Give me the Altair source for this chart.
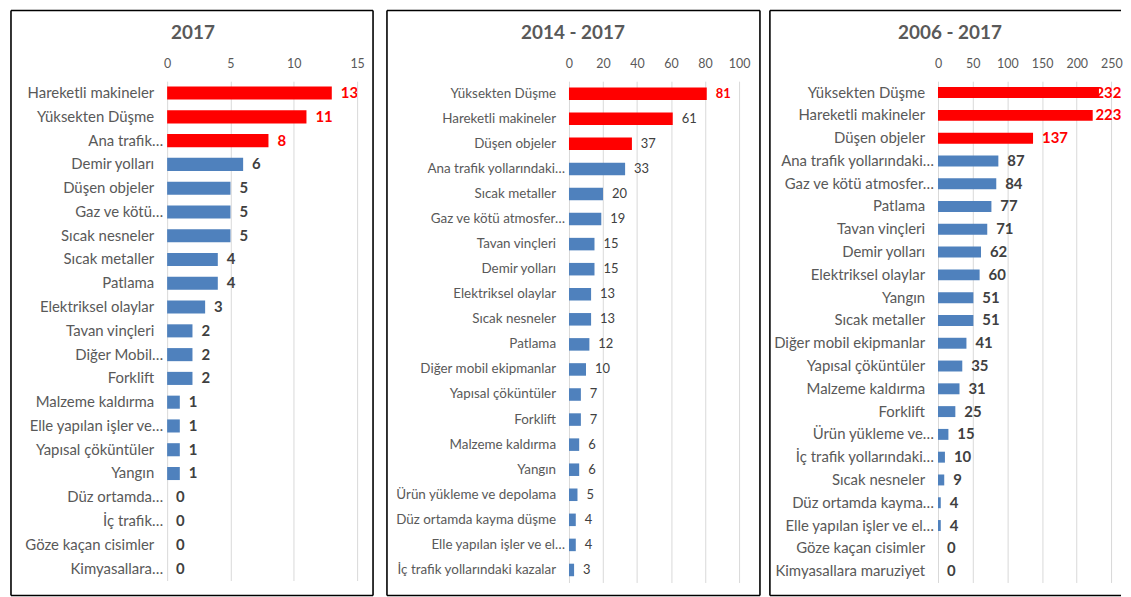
import altair as alt
import pandas as pd

# ---------------- data ----------------
cats_2017 = ["Hareketli makineler", "Yüksekten Düşme", "Ana trafik…", "Demir yolları",
             "Düşen objeler", "Gaz ve kötü…", "Sıcak nesneler", "Sıcak metaller", "Patlama",
             "Elektriksel olaylar", "Tavan vinçleri", "Diğer Mobil…", "Forklift",
             "Malzeme kaldırma", "Elle yapılan işler ve…", "Yapısal çöküntüler", "Yangın",
             "Düz ortamda…", "İç trafik…", "Göze kaçan cisimler", "Kimyasallara…"]
vals_2017 = [13, 11, 8, 6, 5, 5, 5, 4, 4, 3, 2, 2, 2, 1, 1, 1, 1, 0, 0, 0, 0]

cats_1417 = ["Yüksekten Düşme", "Hareketli makineler", "Düşen objeler",
             "Ana trafik yollarındaki…", "Sıcak metaller", "Gaz ve kötü atmosfer…",
             "Tavan vinçleri", "Demir yolları", "Elektriksel olaylar", "Sıcak nesneler",
             "Patlama", "Diğer mobil ekipmanlar", "Yapısal çöküntüler", "Forklift",
             "Malzeme kaldırma", "Yangın", "Ürün yükleme ve depolama",
             "Düz ortamda kayma düşme", "Elle yapılan işler ve el…",
             "İç trafik yollarındaki kazalar"]
vals_1417 = [81, 61, 37, 33, 20, 19, 15, 15, 13, 13, 12, 10, 7, 7, 6, 6, 5, 4, 4, 3]

cats_0617 = ["Yüksekten Düşme", "Hareketli makineler", "Düşen objeler",
             "Ana trafik yollarındaki…", "Gaz ve kötü atmosfer…", "Patlama",
             "Tavan vinçleri", "Demir yolları", "Elektriksel olaylar", "Yangın",
             "Sıcak metaller", "Diğer mobil ekipmanlar", "Yapısal çöküntüler",
             "Malzeme kaldırma", "Forklift", "Ürün yükleme ve…", "İç trafik yollarındaki…",
             "Sıcak nesneler", "Düz ortamda kayma…", "Elle yapılan işler ve el…",
             "Göze kaçan cisimler", "Kimyasallara maruziyet"]
vals_0617 = [232, 223, 137, 87, 84, 77, 71, 62, 60, 51, 51, 41, 35, 31, 25, 15, 10, 9, 4, 4, 0, 0]

ticks_2017 = [0, 5, 10, 15]
ticks_1417 = [0, 20, 40, 60, 80, 100]
ticks_0617 = [0, 50, 100, 150, 200, 250]

titles = ["2017", "2014 - 2017", "2006 - 2017"]

# ---------------- style ----------------
FONT = "Lato"
RED = "#ff0000"
BLUE = "#4f81bd"
GRAY = "#595959"
DARK = "#404040"
GRID = "#d9d9d9"
TRUNC = "indexof(datum.cat, '…') >= 0"


def panel(title, cats, vals, ticks, n_red_bars, n_red_labels, width, height, xmax,
          label_size, value_size, value_weight, pad_inner, title_x, border, label_cap,
          right_border=True):
    df = pd.DataFrame({"cat": cats, "val": vals})
    df["idx"] = list(range(len(cats)))

    xsc = alt.Scale(domain=[0, xmax], nice=False, zero=True)
    ysc = alt.Scale(paddingInner=pad_inner, paddingOuter=pad_inner / 2)
    xaxis = alt.Axis(orient="top", values=ticks, title=None, grid=True,
                     gridColor=GRID, gridWidth=1, domain=False, ticks=False,
                     labelPadding=11, labelFont=FONT, labelFontSize=12.5,
                     labelColor=GRAY, labelFlush=False, labelOverlap=False)
    x = alt.X("val:Q", scale=xsc, axis=xaxis)
    xl = alt.X("lx:Q", scale=xsc, axis=xaxis)
    y = alt.Y("cat:N", sort=cats, scale=ysc, axis=None)

    base = alt.Chart(df)
    bars = base.mark_bar().encode(
        x=x, y=y,
        color=alt.condition(f"datum.idx < {n_red_bars}", alt.value(RED), alt.value(BLUE)))

    # category labels (Excel's truncated ones sit closer to the axis)
    cat_full = base.mark_text(align="right", baseline="middle", font=FONT,
                              fontSize=label_size, color=GRAY
                              ).transform_filter(f"!({TRUNC})").encode(
        x=alt.value(-13), y=y, text="cat:N")
    cat_trunc = base.mark_text(align="right", baseline="middle", font=FONT,
                               fontSize=label_size, color=GRAY
                               ).transform_filter(TRUNC).encode(
        x=alt.value(-4), y=y, text="cat:N")

    # value labels
    vb = base.transform_calculate(lx=f"min(datum.val, {label_cap})")
    lab_norm = vb.mark_text(align="left", baseline="middle", dx=9, font=FONT,
                            fontSize=value_size, fontWeight=value_weight, color=DARK,
                            clip=True).transform_filter(f"datum.idx >= {n_red_labels}").encode(
        x=xl, y=y, text="val:Q")
    lab_red = vb.mark_text(align="left", baseline="middle", dx=9, font=FONT,
                           fontSize=value_size, fontWeight="bold", color=RED,
                           clip=True).transform_filter(f"datum.idx < {n_red_labels}").encode(
        x=xl, y=y, text="val:Q")

    one = alt.Chart(pd.DataFrame({"t": [title]}))
    ttl = one.mark_text(font=FONT, fontSize=19, fontWeight="bold", color=GRAY,
                        align="center", baseline="middle").encode(
        text="t:N", x=alt.value(title_x), y=alt.value(-48))

    bl, br, bt, bb = border
    frame = [
        one.mark_rule(color="#000000", strokeWidth=1.6).encode(
            x=alt.value(bl), x2=alt.value(br), y=alt.value(bt)),
        one.mark_rule(color="#000000", strokeWidth=1.6).encode(
            x=alt.value(bl), x2=alt.value(br), y=alt.value(bb)),
        one.mark_rule(color="#000000", strokeWidth=1.6).encode(
            x=alt.value(bl), y=alt.value(bt), y2=alt.value(bb)),
    ]
    if right_border:
        frame.append(one.mark_rule(color="#000000", strokeWidth=1.6).encode(
            x=alt.value(br), y=alt.value(bt), y2=alt.value(bb)))

    return alt.layer(bars, *frame, cat_full, cat_trunc, lab_norm, lab_red, ttl
                     ).properties(width=width, height=height)


p1 = panel(titles[0], cats_2017, vals_2017, ticks_2017, 3, 3, 191, 502, 15,
           15, 15, "bold", 0.45, 26, (-157, 207, -71, 517), 1000)
p2 = panel(titles[1], cats_1417, vals_1417, ticks_1417, 3, 1, 171, 504, 100,
           13.5, 13, "normal", 0.5, 4, (-183, 192, -71, 517), 1000)
p3 = panel(titles[2], cats_0617, vals_0617, ticks_0617, 3, 3, 184, 504, 263.8,
           15, 15, "bold", 0.52, 12, (-169, 184, -71, 517), 214, right_border=False)


def spacer(w):
    return alt.Chart(pd.DataFrame({"a": [0]})).mark_point(opacity=0).encode(
        x=alt.value(0), y=alt.value(0)).properties(width=w, height=10)


chart = alt.hconcat(p1, spacer(213), p2, spacer(200), p3, spacing=0, bounds="flush"
                    ).configure_view(stroke=None).properties(
    padding={"left": 2, "top": 0, "right": 0, "bottom": 0})

chart.save("out.html", embed_options={"renderer": "svg", "actions": False})
